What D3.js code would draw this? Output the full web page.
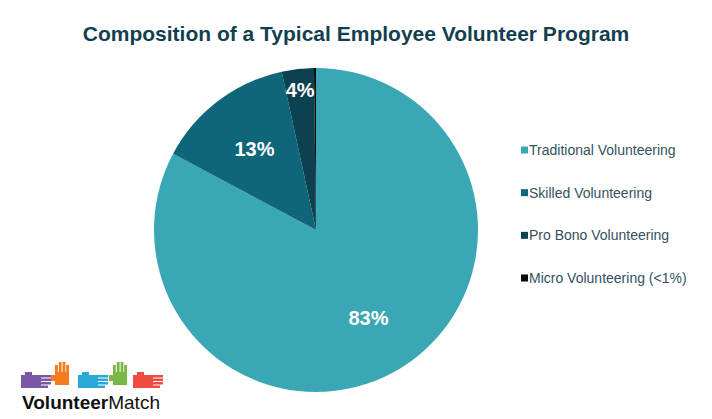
<!DOCTYPE html>
<html>
<head>
<meta charset="utf-8">
<script src="https://cdn.jsdelivr.net/npm/d3@7"></script>
<style>
  html, body { margin: 0; padding: 0; background: #fff; }
  svg { display: block; }
</style>
</head>
<body>
<svg id="chart" width="712" height="419"></svg>
<script>
const title = "Composition of a Typical Employee Volunteer Program";
const categories = ["Traditional Volunteering", "Skilled Volunteering", "Pro Bono Volunteering", "Micro Volunteering (<1%)"];
const values = [82.8, 13.8, 3.2, 0.2];
const valueLabels = ["83%", "13%", "4%", ""];
const colors = ["#3aa7b5", "#0f6579", "#0c4150", "#0a0a0a"];
const logoHandColors = ["#7b58a6", "#f47b20", "#2aa9d8", "#7ab648", "#ef4b3e"];

const svg = d3.select("#chart");

// Title
svg.append("text")
  .attr("x", 356).attr("y", 41)
  .attr("text-anchor", "middle")
  .attr("font-family", "Liberation Sans, Arial, sans-serif")
  .attr("font-weight", "bold")
  .attr("font-size", 21)
  .attr("fill", "#123f4f")
  .text(title);

// Pie
const cx = 316, cy = 230, R = 162;
const pie = d3.pie().sort(null).value(d => d)(values);
const arc = d3.arc().innerRadius(0).outerRadius(R);
const g = svg.append("g").attr("transform", `translate(${cx},${cy})`);
g.selectAll("path").data(pie).join("path")
  .attr("d", arc)
  .attr("fill", (d, i) => colors[i]);

g.selectAll("text.lbl").data(pie).join("text")
  .attr("class", "lbl")
  .attr("transform", d => {
    const frac = (d.endAngle - d.startAngle) / (2 * Math.PI);
    const r = frac > 0.1 ? R * 0.63 : R * 0.87;
    const a = (d.startAngle + d.endAngle) / 2;
    return `translate(${r * Math.sin(a)},${-r * Math.cos(a)})`;
  })
  .attr("text-anchor", "middle")
  .attr("dy", "0.36em")
  .attr("font-family", "Liberation Sans, Arial, sans-serif")
  .attr("font-weight", "bold")
  .attr("font-size", 20)
  .attr("fill", "#ffffff")
  .text((d, i) => valueLabels[i]);

// Legend
const legendY = d3.scalePoint().domain(categories).range([150, 278]);
const items = svg.append("g").selectAll("g").data(categories).join("g")
  .attr("transform", d => `translate(521,${legendY(d)})`);
items.append("rect")
  .attr("x", 0).attr("y", -3.5).attr("width", 7).attr("height", 7)
  .attr("fill", (d, i) => colors[i]);
items.append("text")
  .attr("x", 8).attr("y", 0).attr("dy", "0.35em")
  .attr("font-family", "Liberation Sans, Arial, sans-serif")
  .attr("font-size", 14)
  .attr("fill", "#34515e")
  .text(d => d);

// Logo (VolunteerMatch)
const logo = svg.append("g");
function hHand(x, y, c) {
  const h = logo.append("g").attr("fill", c);
  h.append("rect").attr("x", x).attr("y", y).attr("width", 20).attr("height", 13);
  [0, 3.5, 7, 10.5].forEach((o, k) => h.append("rect").attr("x", x + 20).attr("y", y + o).attr("width", 10 - (k === 3 ? 3 : 0)).attr("height", 2.5));
  h.append("rect").attr("x", x + 4).attr("y", y - 3).attr("width", 7).attr("height", 3);
}
function vHand(x, y, c) {
  const h = logo.append("g").attr("fill", c);
  h.append("rect").attr("x", x).attr("y", y + 10).attr("width", 14).attr("height", 13);
  [0, 3.8, 7.6, 11.2].forEach((o, k) => h.append("rect").attr("x", x + o).attr("y", y + (k === 0 || k === 3 ? 3 : 0)).attr("width", 2.8).attr("height", 11));
  h.append("rect").attr("x", x - 4).attr("y", y + 13).attr("width", 4).attr("height", 6);
}
hHand(21, 375, logoHandColors[0]);
vHand(55, 362, logoHandColors[1]);
hHand(78, 375, logoHandColors[2]);
vHand(113, 362, logoHandColors[3]);
hHand(133, 375, logoHandColors[4]);
const lt = logo.append("text")
  .attr("x", 22).attr("y", 409)
  .attr("font-family", "Liberation Sans, Arial, sans-serif")
  .attr("font-size", 19)
  .attr("fill", "#111");
lt.append("tspan").attr("font-weight", "bold").text("Volunteer");
lt.append("tspan").text("Match");
</script>
</body>
</html>
